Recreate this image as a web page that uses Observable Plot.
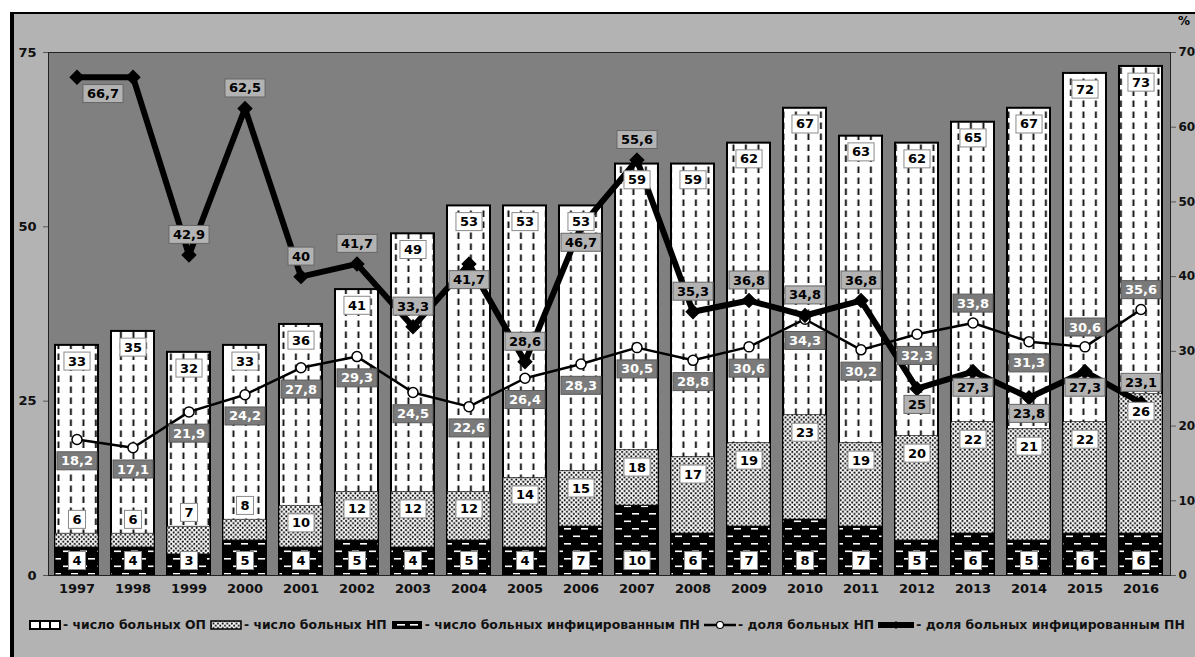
<!DOCTYPE html>
<html>
<head>
<meta charset="utf-8">
<script src="https://cdn.jsdelivr.net/npm/d3@7"></script>
<script src="https://cdn.jsdelivr.net/npm/@observablehq/plot@0.6"></script>
<style>
  html, body { margin: 0; padding: 0; background: #fff; overflow: hidden; }
  body { width: 1195px; height: 657px; position: relative; font-family: "DejaVu Sans", Verdana, sans-serif; }
  #frame { position: absolute; left: 10px; top: 12px; width: 1200px; height: 660px; background: #b3b3b3;
           border-left: 4px solid #000; border-top: 2px solid #000; }
  #chart { position: absolute; left: 0; top: 0; }
  #pct { position: absolute; left: 1178px; top: 14px; font-weight: bold; font-size: 12px; }
  #legend { position: absolute; left: 29px; top: 617px; display: flex; align-items: center; white-space: nowrap;
            font-weight: bold; font-size: 12.4px; color: #111; }
  #legend .item { display: inline-flex; align-items: center; margin-right: 4px; }
  #legend svg { margin-right: 2px; }
</style>
</head>
<body>
<div id="frame"></div>
<div id="chart"></div>
<div id="pct">%</div>
<div id="legend"></div>
<script>
// ---- data ----
const years = [1997, 1998, 1999, 2000, 2001, 2002, 2003, 2004, 2005, 2006, 2007, 2008, 2009, 2010, 2011, 2012, 2013, 2014, 2015, 2016];
const opCount = [33, 35, 32, 33, 36, 41, 49, 53, 53, 53, 59, 59, 62, 67, 63, 62, 65, 67, 72, 73];
const npCount = [6, 6, 7, 8, 10, 12, 12, 12, 14, 15, 18, 17, 19, 23, 19, 20, 22, 21, 22, 26];
const pnCount = [4, 4, 3, 5, 4, 5, 4, 5, 4, 7, 10, 6, 7, 8, 7, 5, 6, 5, 6, 6];
const npShare = [18.2, 17.1, 21.9, 24.2, 27.8, 29.3, 24.5, 22.6, 26.4, 28.3, 30.5, 28.8, 30.6, 34.3, 30.2, 32.3, 33.8, 31.3, 30.6, 35.6];
const pnShare = [66.7, 66.7, 42.9, 62.5, 40, 41.7, 33.3, 41.7, 28.6, 46.7, 55.6, 35.3, 36.8, 34.8, 36.8, 25, 27.3, 23.8, 27.3, 23.1];
const leftTicks = [0, 25, 50, 75];
const rightTicks = [0, 10, 20, 30, 40, 50, 60, 70];
const legendLabels = ["- число больных ОП", "- число больных НП", "- число больных инфицированным ПН", "- доля больных НП", "- доля больных инфицированным ПН"];

// ---- build ----
const k = 75 / 70; // right axis (%) -> left axis units
const rows = years.map((yr, i) => ({
  year: String(yr), op: opCount[i], np: npCount[i], pn: pnCount[i], sNp: npShare[i], sPn: pnShare[i]
}));
const fmt = v => String(v).replace(".", ",");
const npAbove = new Set(["2013", "2015", "2016"]);
const pnBelow = new Set(["1997", "2004", "2006", "2012", "2013", "2014", "2015"]);

const bold = {fontWeight: "bold", fontSize: 13};

const svg = Plot.plot({
  width: 1195,
  height: 603,
  marginLeft: 48,
  marginRight: 25,
  marginTop: 52,
  marginBottom: 28,
  style: {background: "transparent", fontFamily: "DejaVu Sans, Verdana, sans-serif", fontSize: "13px", fontWeight: "bold", color: "#111"},
  x: {domain: years.map(String), paddingInner: 0.23, paddingOuter: 0.115, label: null},
  y: {domain: [0, 75], label: null},
  marks: [
    Plot.frame({fill: "#808080"}),
    Plot.axisY({ticks: leftTicks, tickSize: 5, tickPadding: 7, label: null, stroke: "#555"}),
    Plot.axisY({anchor: "right", ticks: rightTicks.map(t => t * k), tickFormat: d => Math.round(d / k), tickSize: 5, tickPadding: 3, fontSize: 12, label: null, stroke: "#555"}),
    Plot.axisX({tickSize: 0, tickPadding: 8, label: null}),
    Plot.barY(rows, {x: "year", y: "op", fill: "url(#patOP)", stroke: "#000", strokeWidth: 2}),
    Plot.barY(rows, {x: "year", y: "np", fill: "url(#patNP)", stroke: "#000", strokeWidth: 0.6}),
    Plot.barY(rows, {x: "year", y: "pn", fill: "url(#patPN)", stroke: "#000", strokeWidth: 1}),
    Plot.frame({stroke: "#222", strokeWidth: 1}),
    Plot.line(rows, {x: "year", y: d => d.sNp * k, stroke: "#000", strokeWidth: 2.5}),
    Plot.dot(rows, {x: "year", y: d => d.sNp * k, r: 5, fill: "#fff", stroke: "#000", strokeWidth: 1.5}),
    Plot.line(rows, {x: "year", y: d => d.sPn * k, stroke: "#000", strokeWidth: 6}),
    Plot.dot(rows, {x: "year", y: d => d.sPn * k, r: 6, symbol: "diamond2", fill: "#000", stroke: "#000"}),
    // bar labels
    Plot.text(rows, {x: "year", y: d => d.op - 2.3, text: d => fmt(d.op), fill: "#000", ...bold, ariaDescription: "lbl-white"}),
    Plot.text(rows, {x: "year", y: d => d.np >= 10 ? d.np - 2.5 : d.np + 2, text: d => fmt(d.np), fill: "#000", ...bold, ariaDescription: "lbl-white"}),
    Plot.text(rows, {x: "year", y: 2.1, text: d => fmt(d.pn), fill: "#000", ...bold, ariaDescription: "lbl-white"}),
    // share НП labels
    Plot.text(rows, {x: "year", y: d => d.sNp * k + (npAbove.has(d.year) ? 2.8 : -3.1), text: d => fmt(d.sNp), fill: "#fff", ...bold, ariaDescription: "lbl-dark"}),
    // share ПН labels
    Plot.text(rows.filter(d => d.year !== "1997" && d.year !== "1998"), {x: "year", y: d => d.sPn * k + (pnBelow.has(d.year) ? -2.3 : 2.9), text: d => fmt(d.sPn), fill: "#000", ...bold, ariaDescription: "lbl-light"}),
    Plot.text(rows.filter(d => d.year === "1997"), {x: "year", y: d => d.sPn * k - 2.4, dx: 26, text: d => fmt(d.sPn), fill: "#000", ...bold, ariaDescription: "lbl-light"})
  ]
});

document.getElementById("chart").appendChild(svg);

// ---- patterns ----
const NS = "http://www.w3.org/2000/svg";
const defs = d3.select(svg).insert("defs", ":first-child");
const pOP = defs.append("pattern").attr("id", "patOP").attr("patternUnits", "userSpaceOnUse").attr("width", 12.5).attr("height", 11).attr("x", 2);
pOP.append("rect").attr("width", 12.5).attr("height", 11).attr("fill", "#fff");
pOP.append("rect").attr("x", 5.5).attr("y", 1.5).attr("width", 1.8).attr("height", 6.5).attr("fill", "#000");
const pNP = defs.append("pattern").attr("id", "patNP").attr("patternUnits", "userSpaceOnUse").attr("width", 4.6).attr("height", 4.6);
pNP.append("rect").attr("width", 4.6).attr("height", 4.6).attr("fill", "#fff");
pNP.append("circle").attr("cx", 1.15).attr("cy", 1.15).attr("r", 1.05).attr("fill", "#000");
pNP.append("circle").attr("cx", 3.45).attr("cy", 3.45).attr("r", 1.05).attr("fill", "#000");
const pPN = defs.append("pattern").attr("id", "patPN").attr("patternUnits", "userSpaceOnUse").attr("width", 17).attr("height", 15).attr("x", 3);
pPN.append("rect").attr("width", 17).attr("height", 15).attr("fill", "#000");
pPN.append("rect").attr("x", 0).attr("y", 3).attr("width", 7).attr("height", 1.6).attr("fill", "#fff");
pPN.append("rect").attr("x", 9).attr("y", 10.5).attr("width", 7).attr("height", 1.6).attr("fill", "#fff");

// ---- label boxes ----
function boxes(desc, fill, stroke) {
  d3.select(svg).selectAll(`g[aria-description="${desc}"] text`).each(function () {
    const b = this.getBBox();
    const r = document.createElementNS(NS, "rect");
    r.setAttribute("x", b.x - 4);
    r.setAttribute("y", b.y - 1.5);
    r.setAttribute("width", b.width + 8);
    r.setAttribute("height", b.height + 3);
    r.setAttribute("fill", fill);
    r.setAttribute("stroke", stroke);
    r.setAttribute("stroke-width", 1);
    const t = this.getAttribute("transform");
    if (t) r.setAttribute("transform", t);
    this.parentNode.insertBefore(r, this);
  });
}
boxes("lbl-white", "#fff", "#8a8a8a");
boxes("lbl-dark", "#7a7a7a", "#5a5a5a");
boxes("lbl-light", "#b3b3b3", "#666");

// ---- legend ----
const legend = d3.select("#legend");
const swatches = [
  s => { s.append("rect").attr("x", 1).attr("y", 1).attr("width", 30).attr("height", 8).attr("fill", "#fff").attr("stroke", "#000").attr("stroke-width", 2);
         s.append("line").attr("x1", 11).attr("x2", 11).attr("y1", 1).attr("y2", 9).attr("stroke", "#000").attr("stroke-width", 2);
         s.append("line").attr("x1", 21).attr("x2", 21).attr("y1", 1).attr("y2", 9).attr("stroke", "#000").attr("stroke-width", 2); },
  s => { s.append("rect").attr("x", 1).attr("y", 1).attr("width", 30).attr("height", 8).attr("fill", "url(#patNP)").attr("stroke", "#000").attr("stroke-width", 1.5); },
  s => { s.append("rect").attr("x", 1).attr("y", 1).attr("width", 30).attr("height", 8).attr("fill", "#000");
         s.append("rect").attr("x", 6).attr("y", 4).attr("width", 8).attr("height", 1.6).attr("fill", "#fff");
         s.append("rect").attr("x", 19).attr("y", 4).attr("width", 8).attr("height", 1.6).attr("fill", "#fff"); },
  s => { s.append("line").attr("x1", 0).attr("x2", 32).attr("y1", 5).attr("y2", 5).attr("stroke", "#000").attr("stroke-width", 2.5);
         s.append("circle").attr("cx", 16).attr("cy", 5).attr("r", 3.5).attr("fill", "#fff").attr("stroke", "#000").attr("stroke-width", 1.2); },
  s => { s.append("line").attr("x1", 0).attr("x2", 36).attr("y1", 5).attr("y2", 5).attr("stroke", "#000").attr("stroke-width", 6);
         s.append("path").attr("d", "M18,1 L22,5 L18,9 L14,5Z").attr("fill", "#000"); }
];
legendLabels.forEach((lab, i) => {
  const item = legend.append("span").attr("class", "item");
  const w = i === 4 ? 36 : 32;
  const s = item.append("svg").attr("width", w).attr("height", 10);
  swatches[i](s);
  item.append("span").text(lab);
});
</script>
</body>
</html>
